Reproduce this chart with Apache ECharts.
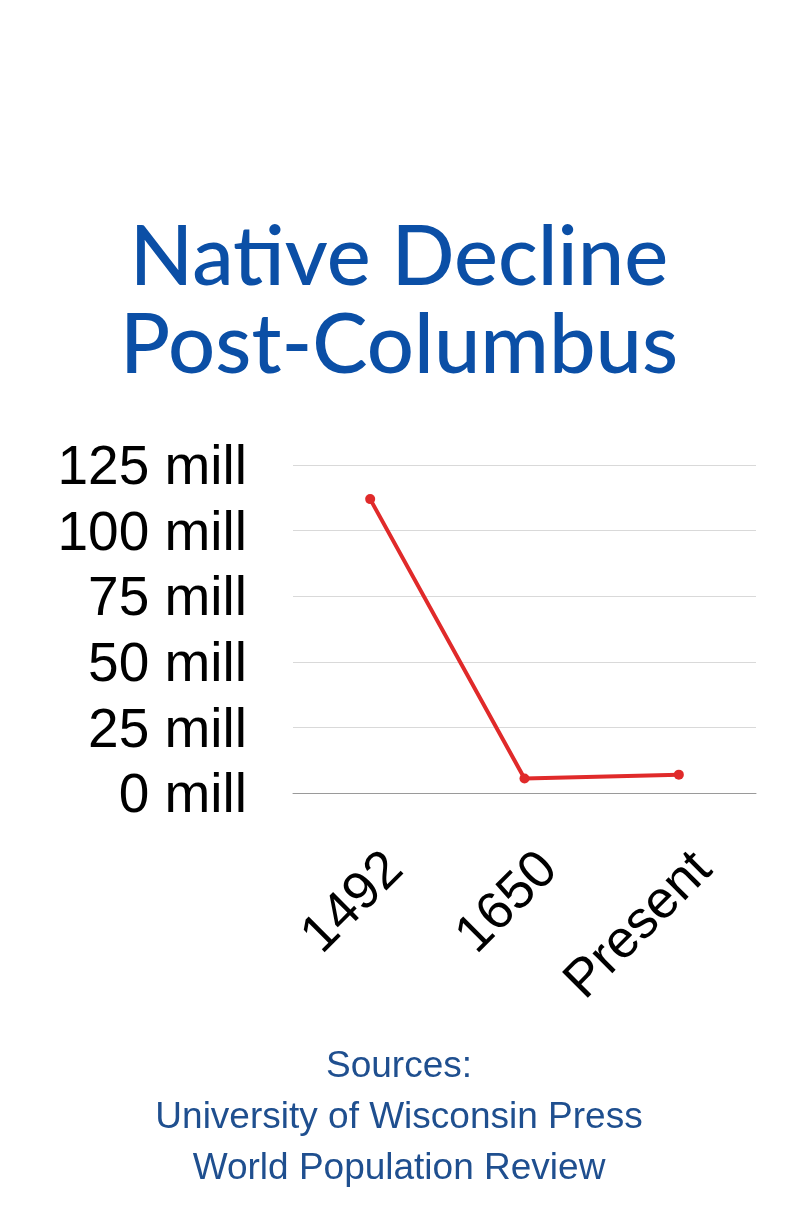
<!DOCTYPE html>
<html>
<head>
<meta charset="utf-8">
<script src="https://cdn.jsdelivr.net/npm/echarts@6/dist/echarts.min.js"></script>
<style>
html,body{margin:0;padding:0;background:#fff;}
#chart{width:797px;height:1230px;}
</style>
</head>
<body>
<div id="chart"></div>
<script>
const categories = ['1492', '1650', 'Present'];
const population = [112, 5.5, 7];
const yTicks = { min: 0, max: 125, interval: 25, suffix: ' mill' };
const titleLines = ['Native Decline', 'Post-Columbus'];
const sourceLines = ['Sources:', 'University of Wisconsin Press', 'World Population Review'];

const chart = echarts.init(document.getElementById('chart'), null, { renderer: 'canvas' });
chart.setOption({
  backgroundColor: '#ffffff',
  animation: false,
  graphic: [
    {
      type: 'text',
      x: 399,
      y: 214,
      style: {
        text: titleLines.join('\n'),
        textAlign: 'center',
        textVerticalAlign: 'top',
        fontFamily: 'Lato',
        fontWeight: 500,
        fontSize: 83,
        lineHeight: 88,
        fill: '#0b4fa6'
      }
    },
    {
      type: 'text',
      x: 399,
      y: 1041,
      style: {
        text: sourceLines.join('\n'),
        textAlign: 'center',
        textVerticalAlign: 'top',
        fontFamily: 'Liberation Sans',
        fontSize: 37,
        lineHeight: 51,
        fill: '#1f4f8f'
      }
    }
  ],
  grid: { left: 293, right: 41, top: 465, bottom: 437, containLabel: false },
  xAxis: {
    type: 'category',
    data: categories,
    boundaryGap: true,
    axisLine: { show: true, lineStyle: { color: '#9a9a9a', width: 1 } },
    axisTick: { show: false },
    axisLabel: {
      rotate: 45,
      margin: 93,
      padding: [0, -35, 0, 0],
      fontFamily: 'Liberation Sans',
      fontSize: 53,
      color: '#000000',
      interval: 0
    }
  },
  yAxis: {
    type: 'value',
    min: yTicks.min,
    max: yTicks.max,
    interval: yTicks.interval,
    axisLine: { show: false },
    axisTick: { show: false },
    splitLine: { lineStyle: { color: '#d9d9d9', width: 1 } },
    axisLabel: {
      margin: 46,
      color: '#000000',
      formatter: v => '{v|' + v + yTicks.suffix + '}',
      rich: {
        v: {
          fontFamily: 'Liberation Sans',
          fontSize: 55,
          color: '#000000',
          padding: [8, 0, 0, 0]
        }
      }
    }
  },
  series: [{
    type: 'line',
    data: population,
    symbol: 'circle',
    symbolSize: 10,
    lineStyle: { color: '#e02a2a', width: 4 },
    itemStyle: { color: '#e02a2a' }
  }]
});
</script>
</body>
</html>
